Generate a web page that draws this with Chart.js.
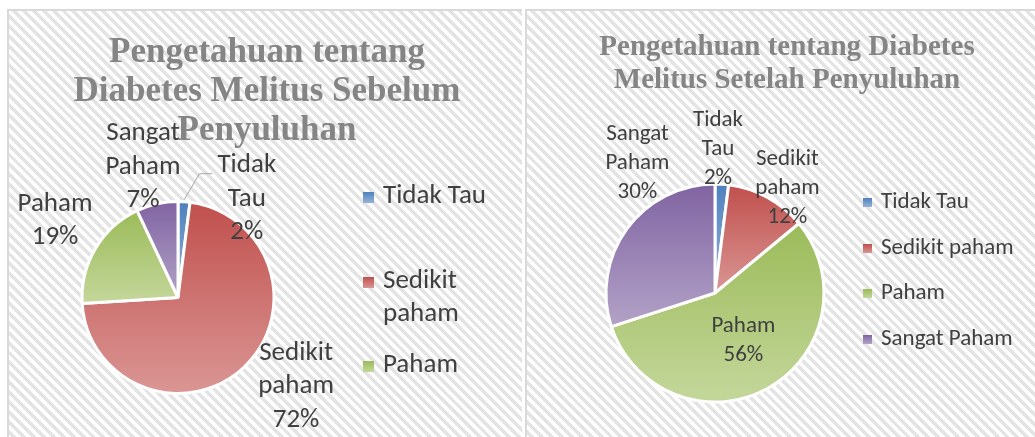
<!DOCTYPE html>
<html><head><meta charset="utf-8">
<script src="https://cdn.jsdelivr.net/npm/chart.js@4.4.1/dist/chart.umd.min.js"></script>
<style>
html,body{margin:0;padding:0;background:#fff;width:1035px;height:437px;overflow:hidden;position:relative}
.panel{position:absolute;top:9px;height:440px;box-sizing:border-box;border-top:2px solid #d9d9d9;border-left:2px solid #d9d9d9;
  background:repeating-linear-gradient(45deg,#fff 0 3.5px,#e4e4e4 3.5px 7px)}
#pL{left:7px;width:515px}
#pR{left:525px;width:530px}
canvas{position:absolute}
.title{position:absolute;text-align:center;color:#858585;font-family:"Liberation Serif","Times New Roman",serif;font-weight:bold;white-space:nowrap}
.leg{position:absolute;top:0;color:#404040;font-family:Carlito,Lato,sans-serif}
.leg .item{position:absolute;left:0}
.leg .mk{position:absolute;left:0}
</style>
</head>
<body>
<div class="panel" id="pL"></div>
<div class="panel" id="pR"></div>
<canvas id="cL" width="516" height="428" style="left:7px;top:9px"></canvas>
<canvas id="cR" width="510" height="428" style="left:525px;top:9px"></canvas>
<div class="title" id="tL" style="left:9px;width:516px;top:31px;font-size:35px;line-height:39px"></div>
<div class="title" id="tR" style="left:525px;width:524px;top:29px;font-size:29px;line-height:33px"></div>
<div class="leg" id="lL" style="left:363px"></div>
<div class="leg" id="lR" style="left:863px"></div>
<script>
// ---- data ----
const CATS = ['Tidak Tau','Sedikit paham','Paham','Sangat Paham'];
const BEFORE = [2,72,19,7];
const AFTER  = [2,12,56,30];
const TITLE_BEFORE = ['Pengetahuan tentang','Diabetes Melitus Sebelum','Penyuluhan'];
const TITLE_AFTER  = ['Pengetahuan tentang Diabetes','Melitus Setelah Penyuluhan'];

// ---- style ----
const FONT = 'Carlito, Lato, sans-serif';
const DARK  = ['#4F81BD','#C0504D','#9BBB59','#8064A2'];
const LIGHT = ['#95B3D7','#DA9694','#C4D79B','#B3A2C7'];
const $ = id => document.getElementById(id);

// excel-ish vertical gradient over each slice's own height
function sliceFill(c){
  const i=c.dataIndex, ch=c.chart, ca=ch.chartArea;
  if(!ca) return DARK[i];
  const R=c.dataset.radius, cx=(ca.left+ca.right)/2, cy=(ca.top+ca.bottom)/2;
  const d=c.dataset.data, tot=d.reduce((a,b)=>a+b,0);
  let before=0; for(let k=0;k<i;k++) before+=d[k];
  const t0=before/tot*2*Math.PI, t1=(before+d[i])/tot*2*Math.PI;
  const ys=[cy, cy-R*Math.cos(t0), cy-R*Math.cos(t1)];
  if(t0<=1e-9 || t1>=2*Math.PI-1e-9) ys.push(cy-R);
  if(t0<=Math.PI && t1>=Math.PI) ys.push(cy+R);
  const g=ch.ctx.createLinearGradient(0,Math.min(...ys),0,Math.max(...ys));
  g.addColorStop(0,DARK[i]); g.addColorStop(1,LIGHT[i]);
  return g;
}

// category + percent labels, placed in polar terms around the pie
const sliceLabels = {
  id:'sliceLabels',
  afterDatasetsDraw(chart, args, o){
    const ctx=chart.ctx, meta=chart.getDatasetMeta(0);
    const vals=chart.data.datasets[0].data, tot=vals.reduce((a,b)=>a+b,0);
    ctx.save();
    ctx.font=o.size+'px '+FONT;
    ctx.textAlign='center'; ctx.textBaseline='middle';
    meta.data.forEach((arc,i)=>{
      const [deg,f]=o.spots[i], a=deg*Math.PI/180;
      const x=arc.x+Math.sin(a)*arc.outerRadius*f;
      const y=arc.y-Math.cos(a)*arc.outerRadius*f;
      const lines=chart.data.labels[i].split(' ').concat([Math.round(vals[i]/tot*100)+'%']);
      const y0=y-(lines.length-1)*o.lh/2;
      ctx.fillStyle='#404040';
      lines.forEach((t,k)=>ctx.fillText(t,x,y0+k*o.lh));
      if(o.leader && o.leader[i]){
        const mid=(arc.startAngle+arc.endAngle)/2, r=arc.outerRadius+2;
        const left=x-ctx.measureText(lines[0]).width/2, ly=y0+8;
        ctx.strokeStyle='#a6a6a6'; ctx.lineWidth=1;
        ctx.beginPath();
        ctx.moveTo(arc.x+Math.cos(mid)*r, arc.y+Math.sin(mid)*r);
        ctx.lineTo(left-18,ly); ctx.lineTo(left-5,ly);
        ctx.stroke();
      }
    });
    ctx.restore();
  }
};

function pie(id, values, radius, padding, lbl){
  return new Chart($(id),{
    type:'pie',
    data:{labels:CATS,datasets:[{data:values,radius:radius,backgroundColor:sliceFill,borderColor:'#fff',borderWidth:3}]},
    options:{responsive:false,animation:false,events:[],layout:{padding:padding},
      plugins:{legend:{display:false},tooltip:{enabled:false},title:{display:false},sliceLabels:lbl}},
    plugins:[sliceLabels]
  });
}

pie('cL',BEFORE,96,{left:71,right:245,top:188.5,bottom:39.5},
  {size:27,lh:33.5,spots:[[35,1.25],[127,1.54],[302,1.51],[345,1.41]],leader:[true,false,false,false]});
pie('cR',AFTER,109,{left:75,right:205,top:169,bottom:29},
  {size:23,lh:29,spots:[[1.2,1.32],[34.6,1.17],[149.3,0.51],[329.2,1.39]]});

// titles
$('tL').innerHTML=TITLE_BEFORE.join('<br>');
$('tR').innerHTML=TITLE_AFTER.join('<br>');

// legends
function legend(id, cfg){
  CATS.forEach((c,i)=>{
    const top=cfg.top+i*cfg.pitch;
    const mk=document.createElement('div');
    mk.className='mk';
    mk.style.cssText=`top:${top+cfg.mkOff}px;width:${cfg.mk}px;height:${cfg.mk}px;background:linear-gradient(${DARK[i]},${LIGHT[i]})`;
    const it=document.createElement('div');
    it.className='item';
    it.textContent=c;
    it.style.cssText=`top:${top}px;left:${cfg.tx}px;width:${cfg.w}px;font-size:${cfg.size}px;line-height:${cfg.lh}px`;
    $(id).append(mk,it);
  });
}
legend('lL',{top:177,pitch:84.5,mkOff:15,mk:11,tx:20,w:135,size:27,lh:33});
legend('lR',{top:186,pitch:45.7,mkOff:12,mk:9,tx:18,w:200,size:23,lh:28});
</script>
</body></html>
